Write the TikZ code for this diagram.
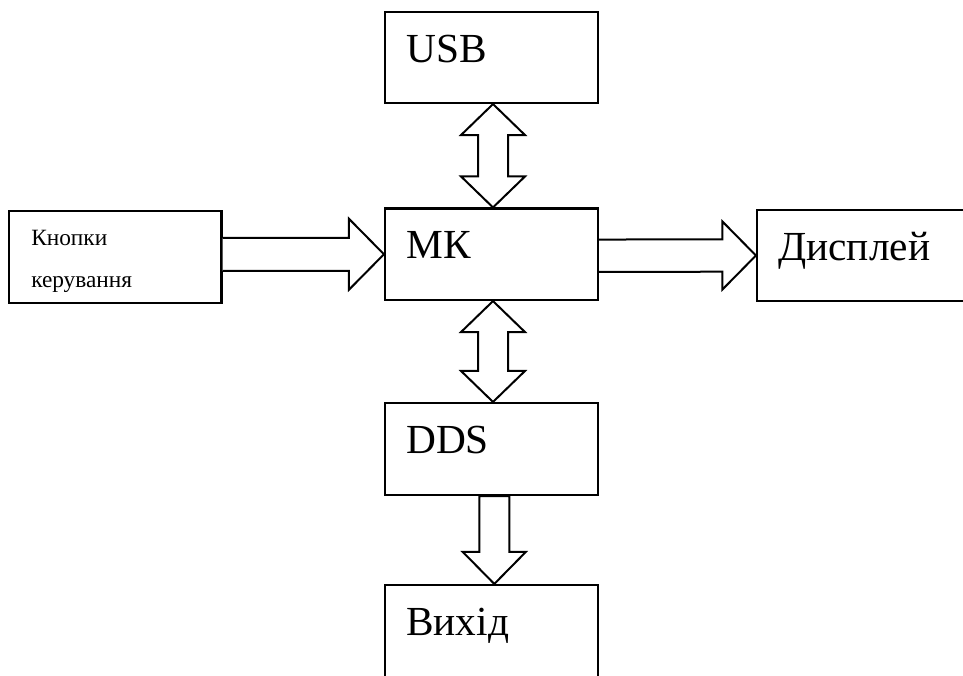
\documentclass[tikz,border=0pt]{standalone}
\usepackage{fontspec}
\setmainfont{Liberation Serif}
\usetikzlibrary{calc}
\def\px{0.75pt}
\tikzset{
  blk/.style={draw=black, line width=1.6pt, rectangle, inner sep=0pt, fill=none},
  bigtxt/.style={anchor=base west, inner sep=0pt, font=\fontsize{31}{37}\selectfont},
  smalltxt/.style={anchor=base west, inner sep=0pt, font=\fontsize{17.5}{21}\selectfont},
  barrow/.style={draw=black, line width=1.5pt, fill=white, line join=miter}
}
\begin{document}
\begin{tikzpicture}[x=0.75pt,y=-0.75pt]
\useasboundingbox (0,0) rectangle (963,675);
\clip (0,0) rectangle (963,675);
\fill[white] (0,0) rectangle (963,675);
% boxes
\node[blk, minimum width=213*\px, minimum height=91*\px] (usb) at (491.5,57.5) {};
\node[blk, minimum width=213*\px, minimum height=91.5*\px] (mk) at (491.5,254.25) {};
\node[blk, minimum width=212.5*\px, minimum height=92*\px] (kn) at (115.25,257) {};
\node[blk, minimum width=213*\px, minimum height=91*\px] (disp) at (863.5,255.5) {};
\node[blk, minimum width=213*\px, minimum height=92*\px] (dds) at (491.5,449) {};
\node[blk, minimum width=213*\px, minimum height=96*\px] (out) at (491.5,633) {};
% texts
\node[bigtxt] (tusb) at (406,62) {USB};
\node[bigtxt] (tmk) at (406,258.3) {МК};
\node[bigtxt] (tdds) at (406,453) {DDS};
\node[bigtxt] (tout) at (406,635) {Вихід};
\node[bigtxt] (tdisp) at (778,260) {Дисплей};
\node[smalltxt] (tkn1) at (31,245) {Кнопки};
\node[smalltxt] (tkn2) at (31,287) {керування};
% USB <-> MK
\coordinate (a1) at ($(usb.south)+(1.5,0)$);
\coordinate (a2) at ($(mk.north)+(1.5,0)$);
\draw[barrow] (a1) -- ($(a1)+(32,31)$) -- ($(a1)+(15,31)$) -- ($(a2)+(15,-31)$) -- ($(a2)+(32,-31)$) -- (a2)
  -- ($(a2)+(-32,-31)$) -- ($(a2)+(-15,-31)$) -- ($(a1)+(-15,31)$) -- ($(a1)+(-32,31)$) -- cycle;
% MK <-> DDS
\coordinate (b1) at ($(mk.south)+(1.5,0)$);
\coordinate (b2) at ($(dds.north)+(1.5,0)$);
\draw[barrow] (b1) -- ($(b1)+(32,31)$) -- ($(b1)+(15,31)$) -- ($(b2)+(15,-31)$) -- ($(b2)+(32,-31)$) -- (b2)
  -- ($(b2)+(-32,-31)$) -- ($(b2)+(-15,-31)$) -- ($(b1)+(-15,31)$) -- ($(b1)+(-32,31)$) -- cycle;
% DDS -> Out
\coordinate (c1) at ($(dds.south)+(2.8,0)$);
\coordinate (c2) at ($(out.north)+(2.8,0)$);
\draw[barrow] ($(c1)+(-15,0)$) -- ($(c1)+(15,0)$) -- ($(c2)+(15,-32)$) -- ($(c2)+(31.5,-32)$) -- (c2)
  -- ($(c2)+(-31.5,-32)$) -- ($(c2)+(-15,-32)$) -- cycle;
% Buttons -> MK
\coordinate (d1) at (kn.east |- mk.west);
\coordinate (d2) at (mk.west);
\draw[barrow] ($(d1)+(0,-16.5)$) -- ($(d2)+(-35,-16.5)$) -- ($(d2)+(-35,-35.5)$) -- (d2)
  -- ($(d2)+(-35,35.5)$) -- ($(d2)+(-35,16.5)$) -- ($(d1)+(0,16.5)$);
% MK -> Display
\coordinate (e1) at ($(mk.east)+(0,1.5)$);
\coordinate (e2) at (disp.west);
\draw[barrow] ($(e1)+(0,-16.2)$) -- ($(e2)+(-33.5,-16.2)$) -- ($(e2)+(-33.5,-34)$) -- (e2)
  -- ($(e2)+(-33.5,34)$) -- ($(e2)+(-33.5,16.2)$) -- ($(e1)+(0,16.2)$);
\end{tikzpicture}
\end{document}
